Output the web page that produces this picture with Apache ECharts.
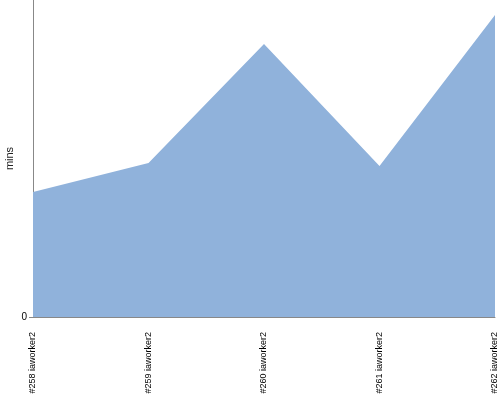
<!DOCTYPE html>
<html><head><meta charset="utf-8">
<script src="https://cdn.jsdelivr.net/npm/echarts@6/dist/echarts.min.js"></script>
<style>html,body{margin:0;padding:0;background:#fff}#c{width:500px;height:400px}</style>
</head><body><div id="c"></div>
<script>
const categories = ["#258 iaworker2", "#259 iaworker2", "#260 iaworker2", "#261 iaworker2", "#262 iaworker2"];
const values = [12.5, 15.4, 27.3, 15.1, 30.2];
const yMax = 31.7;
const yTicks = [0];

const chart = echarts.init(document.getElementById('c'), null, {renderer: 'canvas'});
chart.setOption({
  animation: false,
  grid: {left: 33, right: 5, top: 0, bottom: 83, containLabel: false, outerBoundsMode: 'none'},
  xAxis: {
    type: 'category', data: categories, boundaryGap: false,
    axisLine: {lineStyle: {color: '#888', width: 1}},
    axisTick: {show: false},
    axisLabel: {rotate: 90, fontSize: 9, color: '#000', fontFamily: 'Liberation Sans', margin: 15, interval: 0}
  },
  yAxis: {
    type: 'value', min: 0, max: yMax,
    name: 'mins', nameLocation: 'middle', nameGap: 18, nameMoveOverlap: false,
    nameTextStyle: {fontSize: 11, color: '#222', fontFamily: 'Liberation Sans'},
    axisLine: {show: true, lineStyle: {color: '#888', width: 1}},
    axisTick: {show: true, length: 4, lineStyle: {color: '#888'}, customValues: yTicks},
    splitLine: {show: false},
    axisLabel: {fontSize: 10, color: '#000', fontFamily: 'Liberation Sans', margin: 6, customValues: yTicks}
  },
  series: [{
    type: 'line', data: values, symbol: 'none',
    lineStyle: {width: 0}, areaStyle: {color: '#90b2db', opacity: 1}
  }]
});
</script></body></html>
